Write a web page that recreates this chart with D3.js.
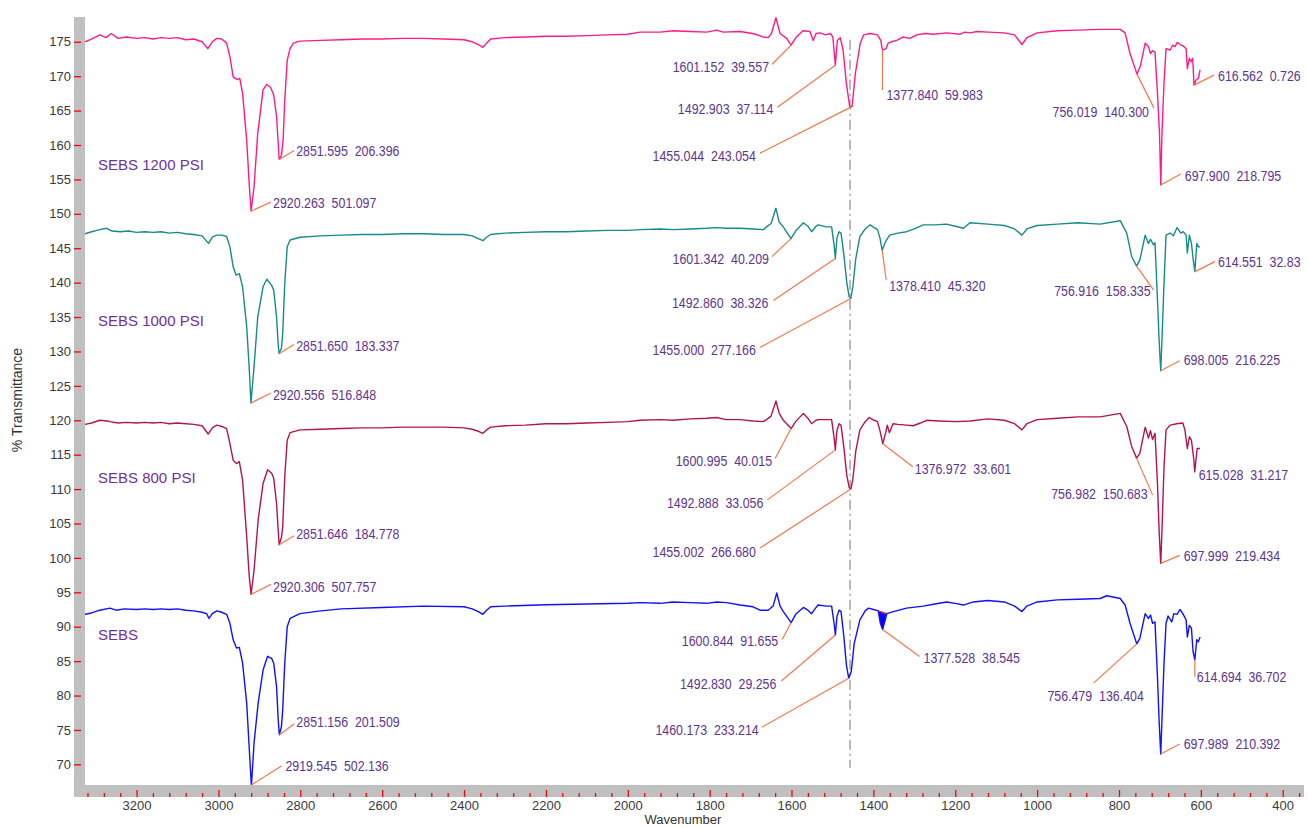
<!DOCTYPE html>
<html>
<head>
<meta charset="utf-8">
<script src="https://cdn.jsdelivr.net/npm/d3@7/dist/d3.min.js"></script>
<style>
  html, body { margin: 0; padding: 0; background: #ffffff; }
  svg { display: block; }
  text { font-family: "Liberation Sans", Arial, sans-serif; }
</style>
</head>
<body>
<svg id="chart" width="1308" height="828"></svg>
<script>
// ---- FTIR spectra: [wavenumber (cm-1), % transmittance] ----
const sebs1200 = [
  [3326,175.0],[3310,175.4],[3290,176.0],[3275,175.6],[3262,176.2],[3245,175.5],[3225,175.7],[3200,175.5],
  [3180,175.6],[3160,175.4],[3140,175.6],[3120,175.5],[3100,175.6],[3080,175.3],[3060,175.4],[3040,175.0],
  [3026,174.0],[3015,175.0],[3004,175.5],[2992,175.4],[2980,174.8],[2972,172.8],[2964,169.9],[2954,169.5],
  [2948,169.7],[2941,167.5],[2931,160.7],[2925,154.5],[2920.3,150.4],[2913,153.9],[2904,161.7],[2891,168.0],
  [2882,168.8],[2873,168.4],[2865,167.3],[2858,164.1],[2851.6,157.9],[2846,158.5],[2842,160.7],[2838,166.5],
  [2832,172.3],[2825,174.0],[2817,174.8],[2801,175.1],[2750,175.2],[2700,175.3],[2650,175.4],[2600,175.4],
  [2550,175.5],[2500,175.5],[2450,175.4],[2400,175.3],[2380,175.0],[2365,174.6],[2354,174.2],[2345,174.8],
  [2335,175.4],[2300,175.6],[2250,175.7],[2200,175.8],[2150,175.8],[2100,175.9],[2050,176.0],[2000,176.1],
  [1970,176.4],[1921,176.4],[1889,176.6],[1848,176.5],[1807,176.4],[1783,176.7],[1767,176.4],[1726,176.5],
  [1694,176.2],[1669,175.7],[1657,175.6],[1649,176.2],[1638,178.5],[1628,176.2],[1612,175.5],[1601.2,174.5],
  [1588,175.7],[1572,176.6],[1555,176.5],[1547,175.2],[1540,176.2],[1530,176.3],[1517,176.0],[1505,176.2],
  [1499,175.7],[1492.9,171.6],[1488,175.2],[1481,175.6],[1474,173.8],[1466,169.0],[1458,165.6],[1455,165.5],
  [1452,165.6],[1444,170.4],[1432,174.8],[1424,176.0],[1408,176.2],[1390,176.0],[1382,175.2],[1377.8,173.8],
  [1369,174.0],[1364,174.8],[1356,175.0],[1343,175.2],[1327,175.7],[1311,175.5],[1294,176.0],[1274,176.2],
  [1254,176.1],[1221,176.3],[1188,176.1],[1176,176.4],[1164,176.3],[1147,176.5],[1120,176.4],[1080,176.3],
  [1055,176.0],[1037,174.6],[1025,175.6],[1000,176.3],[950,176.6],[900,176.7],[846,176.8],[797,176.8],
  [785,176.3],[773,173.3],[756,170.3],[748,171.4],[736,174.8],[728,174.3],[723,173.3],[718,173.7],
  [712,173.5],[706,167.5],[701,161.7],[697.9,154.2],[695,161.7],[690,169.0],[685,174.0],[675,173.8],
  [669,174.5],[663,174.3],[658,174.9],[650,174.6],[643,174.4],[636,174.0],[633,171.1],[628,172.6],
  [624,172.1],[620,172.6],[616.6,168.7],[612,169.4],[606,169.7],[602,170.9]
];

const sebs1000 = [
  [3326,147.1],[3310,147.4],[3290,147.7],[3273,147.9],[3260,147.5],[3240,147.4],[3220,147.5],[3200,147.3],
  [3180,147.4],[3160,147.3],[3140,147.4],[3120,147.2],[3100,147.3],[3080,147.1],[3060,147.0],[3040,146.8],
  [3024,145.7],[3015,146.6],[3004,146.9],[2992,146.9],[2980,146.7],[2972,145.2],[2964,142.3],[2957,141.1],
  [2949,141.3],[2941,139.4],[2931,133.6],[2925,127.8],[2920.6,122.5],[2913,127.8],[2904,135.0],[2891,139.4],
  [2882,140.5],[2870,139.6],[2865,138.9],[2858,135.0],[2854,131.0],[2851.7,129.7],[2846,130.5],[2843,132.6],
  [2838,139.9],[2832,145.2],[2825,146.2],[2801,146.6],[2750,146.8],[2700,146.9],[2650,147.0],[2600,147.0],
  [2550,147.1],[2500,147.1],[2450,147.0],[2400,147.0],[2380,146.8],[2365,146.4],[2354,146.1],[2345,146.6],
  [2335,147.0],[2300,147.2],[2250,147.3],[2200,147.4],[2150,147.4],[2100,147.5],[2050,147.6],[2000,147.6],
  [1970,147.7],[1921,147.8],[1889,147.7],[1848,147.8],[1807,147.9],[1783,148.0],[1760,147.9],[1726,147.9],
  [1694,147.8],[1669,147.7],[1661,148.1],[1650,148.6],[1638,150.8],[1630,148.8],[1620,148.1],[1601.3,146.4],
  [1590,147.5],[1571,148.7],[1560,148.2],[1551,147.4],[1540,148.2],[1535,148.4],[1515,148.1],[1502,148.1],
  [1496,145.5],[1492.9,143.5],[1489,146.5],[1484,147.4],[1479,147.2],[1472,144.0],[1465,140.0],[1459,137.9],
  [1455,137.7],[1450,139.5],[1443,143.5],[1433,146.7],[1420,147.8],[1408,148.4],[1398,148.0],[1390,147.7],
  [1384,146.5],[1378.4,144.7],[1370,146.0],[1360,146.9],[1340,147.2],[1319,147.4],[1300,147.8],[1278,148.4],
  [1250,148.4],[1221,148.5],[1200,148.2],[1180,147.9],[1164,148.7],[1120,148.5],[1080,148.3],[1055,147.8],
  [1037,146.9],[1025,147.8],[1000,148.3],[950,148.5],[900,148.7],[846,148.5],[797,149.0],[781,147.2],
  [769,143.8],[756.9,142.4],[749,143.3],[736,146.9],[728,145.7],[723,146.3],[716,145.5],[712,145.8],
  [706,137.5],[702,131.7],[698,127.2],[695,131.7],[690,139.9],[685,146.9],[675,147.2],[667,146.8],
  [658,148.0],[649,147.2],[643,147.4],[636,146.9],[633,144.3],[628,146.9],[623,145.7],[619,143.5],
  [614.6,141.6],[610,145.7],[606,145.2],[602,145.2]
];

const sebs800 = [
  [3326,119.4],[3310,119.6],[3290,120.0],[3273,119.9],[3265,119.8],[3245,119.6],[3225,119.7],[3200,119.6],
  [3180,119.7],[3160,119.6],[3140,119.7],[3120,119.5],[3100,119.6],[3080,119.5],[3060,119.4],[3040,119.2],
  [3025,118.0],[3015,118.9],[3004,119.3],[2992,119.1],[2980,118.8],[2972,116.6],[2964,114.2],[2956,113.7],
  [2949,114.0],[2941,111.3],[2931,103.1],[2925,97.5],[2920.3,94.7],[2913,98.2],[2903,105.5],[2891,110.8],
  [2880,112.8],[2870,112.3],[2865,111.6],[2858,107.9],[2854,104.0],[2851.6,101.9],[2846,103.0],[2843,104.5],
  [2838,111.8],[2832,117.1],[2825,118.2],[2801,118.6],[2750,118.7],[2700,118.8],[2650,118.9],[2600,118.9],
  [2550,119.0],[2500,119.0],[2450,119.0],[2400,118.9],[2380,118.7],[2365,118.4],[2354,118.1],[2345,118.6],
  [2335,119.0],[2300,119.2],[2250,119.3],[2200,119.5],[2150,119.5],[2100,119.6],[2050,119.7],[2000,119.8],
  [1970,120.0],[1921,120.1],[1889,120.0],[1848,120.2],[1807,120.3],[1783,120.4],[1760,120.1],[1726,120.1],
  [1694,119.9],[1669,119.8],[1661,120.1],[1650,120.6],[1638,122.8],[1630,121.0],[1620,120.0],[1601,118.8],
  [1590,119.8],[1571,121.0],[1560,120.3],[1551,119.5],[1540,120.0],[1535,120.1],[1515,120.1],[1502,120.1],
  [1496,117.5],[1492.9,115.7],[1489,118.5],[1484,119.5],[1479,119.3],[1472,116.0],[1465,112.0],[1459,110.2],
  [1455,110.0],[1450,111.5],[1443,115.5],[1433,118.6],[1420,119.8],[1410,120.4],[1398,120.0],[1390,119.8],
  [1384,118.5],[1377,116.6],[1370,118.2],[1366,119.3],[1361,118.2],[1352,119.5],[1340,119.4],[1319,119.3],
  [1303,119.2],[1285,119.6],[1270,120.0],[1240,119.9],[1197,119.8],[1164,119.9],[1120,120.2],[1080,120.0],
  [1055,119.5],[1037,118.6],[1025,119.5],[1000,120.1],[950,120.3],[900,120.5],[846,120.5],[797,121.0],
  [781,119.1],[769,116.2],[757,114.5],[749,115.2],[736,119.0],[728,117.4],[723,118.5],[718,117.2],
  [712,118.1],[706,110.8],[702,104.0],[698,99.2],[695,104.0],[690,113.2],[685,118.6],[675,119.3],
  [659,119.5],[644,119.6],[639,118.6],[633,115.9],[628,117.6],[623,117.1],[617,114.2],[615,112.5],
  [609,115.9],[602,115.9]
];

const sebs = [
  [3326,91.8],[3310,92.0],[3290,92.4],[3265,92.7],[3250,92.4],[3230,92.6],[3200,92.5],[3180,92.6],
  [3160,92.5],[3140,92.6],[3120,92.5],[3100,92.6],[3080,92.4],[3060,92.3],[3040,92.1],[3029,91.9],
  [3023,91.2],[3015,91.9],[3004,92.3],[2992,92.1],[2980,91.8],[2972,90.5],[2964,88.1],[2956,86.9],
  [2949,87.0],[2941,84.7],[2931,78.9],[2925,72.6],[2919.5,66.8],[2913,73.1],[2903,78.9],[2891,83.7],
  [2880,85.7],[2870,85.4],[2865,84.7],[2858,81.3],[2854,76.5],[2851.2,74.3],[2846,75.5],[2843,77.9],
  [2838,84.7],[2832,90.0],[2825,91.2],[2801,91.9],[2750,92.3],[2700,92.6],[2600,92.8],[2500,93.0],
  [2400,92.9],[2380,92.6],[2365,92.2],[2354,91.8],[2345,92.4],[2335,92.9],[2300,93.0],[2200,93.2],
  [2100,93.3],[2000,93.4],[1970,93.5],[1921,93.4],[1889,93.6],[1848,93.5],[1807,93.4],[1783,93.6],
  [1758,93.5],[1726,93.15],[1694,92.9],[1677,92.4],[1657,92.4],[1645,93.0],[1636,94.9],[1628,93.0],
  [1620,92.2],[1600.8,90.6],[1590,91.8],[1571,92.8],[1560,92.4],[1551,91.9],[1540,92.8],[1535,93.15],
  [1515,93.0],[1502,93.0],[1496,90.5],[1492.8,88.8],[1489,91.5],[1484,92.4],[1479,92.2],[1472,88.5],
  [1466,84.5],[1460.2,82.5],[1454,83.5],[1447,87.5],[1433,91.0],[1420,92.3],[1412,92.7],[1400,92.5],
  [1388,92.3],[1383,90.5],[1377.5,89.6],[1372,90.8],[1367,91.9],[1351,92.2],[1319,92.7],[1278,93.0],
  [1250,93.3],[1221,93.6],[1200,93.4],[1180,93.15],[1156,93.6],[1120,93.8],[1080,93.6],[1055,93.0],
  [1037,92.2],[1025,93.0],[1000,93.6],[950,93.9],[900,94.0],[846,94.1],[830,94.5],[797,94.1],
  [785,93.15],[773,90.5],[756.5,87.5],[749,88.3],[736,91.9],[728,91.2],[723,91.7],[718,90.5],
  [712,90.7],[706,82.7],[702,76.4],[698,71.5],[695,76.4],[690,84.7],[685,90.5],[680,91.55],
  [671,90.7],[666,91.9],[658,91.8],[651,92.5],[644,91.9],[636,91.0],[633,88.5],[628,90.2],
  [623,89.8],[619,86.4],[614.7,85.2],[610,88.1],[606,87.8],[602,88.5]
];

// ---- series names, colours and peak picks ----
const seriesNames = ["SEBS 1200 PSI", "SEBS 1000 PSI", "SEBS 800 PSI", "SEBS"];
const seriesColors = ["#ff1a8c", "#178a8a", "#b31450", "#1010ff"];

const peaks1200 = [
  [2920.263, "2920.263  501.097"], [2851.595, "2851.595  206.396"], [1601.152, "1601.152  39.557"],
  [1492.903, "1492.903  37.114"], [1455.044, "1455.044  243.054"], [1377.840, "1377.840  59.983"],
  [756.019, "756.019  140.300"], [697.900, "697.900  218.795"], [616.562, "616.562  0.726"]
];
const peaks1000 = [
  [2920.556, "2920.556  516.848"], [2851.650, "2851.650  183.337"], [1601.342, "1601.342  40.209"],
  [1492.860, "1492.860  38.326"], [1455.000, "1455.000  277.166"], [1378.410, "1378.410  45.320"],
  [756.916, "756.916  158.335"], [698.005, "698.005  216.225"], [614.551, "614.551  32.83"]
];
const peaks800 = [
  [2920.306, "2920.306  507.757"], [2851.646, "2851.646  184.778"], [1600.995, "1600.995  40.015"],
  [1492.888, "1492.888  33.056"], [1455.002, "1455.002  266.680"], [1376.972, "1376.972  33.601"],
  [756.982, "756.982  150.683"], [697.999, "697.999  219.434"], [615.028, "615.028  31.217"]
];
const peaksSebs = [
  [2919.545, "2919.545  502.136"], [2851.156, "2851.156  201.509"], [1600.844, "1600.844  91.655"],
  [1492.830, "1492.830  29.256"], [1460.173, "1460.173  233.214"], [1377.528, "1377.528  38.545"],
  [756.479, "756.479  136.404"], [697.989, "697.989  210.392"], [614.694, "614.694  36.702"]
];

// axis ticks
const xTicks = [3200, 3000, 2800, 2600, 2400, 2200, 2000, 1800, 1600, 1400, 1200, 1000, 800, 600, 400];
const yTicks = [70, 75, 80, 85, 90, 95, 100, 105, 110, 115, 120, 125, 130, 135, 140, 145, 150, 155, 160, 165, 170, 175];

// marker line through the CH2 bending band
const markerWavenumber = 1457;

// ---- layout ----
const plot = { left: 85, right: 1304, top: 17, bottom: 785 };
const band = 12;

// leader offsets [dx, dy] from the peak to the label, text side, text nudge [tx, ty]
const peakLayout = [
  [[20,-9,"start",2,0],[15,-9,"start",2,0],[-19,19,"end",-3,2],[-58,42,"end",-4,1],[-91,46,"end",-4,2],
   [0,40,"start",4,4],[17,34,"end",-5,3],[20,-11,"start",4,1],[20,-10,"start",4,0]],
  [[20,-10,"start",2,1],[15,-9,"start",2,1],[-19,18,"end",-3,2],[-62,42,"end",-5,2],[-91,49,"end",-4,2],
   [4,30,"start",3,5],[17,24,"end",-3,0],[19,-10,"start",4,-1],[20,-10,"start",3,0]],
  [[20,-10,"start",2,2],[15,-9,"start",2,-2],[-16,30,"end",-3,2],[-68,50,"end",-4,3],[-91,59,"end",-4,3],
   [30,23,"start",2,2],[16,37,"end",-5,-2],[19,-8,"start",4,0],[0,0,"start",4,3]],
  [[30,-19,"start",4,-1],[15,-11,"start",2,-2],[-9,17,"end",-4,1],[-54,46,"end",-5,2],[-87,49,"end",-3,2],
   [37,27,"start",4,1],[-43,39,"end",50,12],[19,-10,"start",4,-1],[0,17,"start",2,0]]
];
const labelPos = [[98, 165], [98, 321], [98, 478], [98, 635]];

const svg = d3.select("#chart");

const x = d3.scaleLinear().domain([3326, 348]).range([plot.left, plot.right]);
const y = d3.scaleLinear().domain([67.0, 178.6]).range([plot.bottom, plot.top]);

// axis frame (grey bands)
svg.append("rect").attr("x", plot.left - 11).attr("y", plot.top)
  .attr("width", 11).attr("height", plot.bottom + band - plot.top).attr("fill", "#c0c0c0");
svg.append("rect").attr("x", plot.left - 11).attr("y", plot.bottom)
  .attr("width", plot.right - plot.left + 11).attr("height", band).attr("fill", "#c0c0c0");

// y axis
const yAxis = svg.append("g").attr("transform", `translate(${plot.left - 11},0)`)
  .call(d3.axisLeft(y).tickValues(yTicks).tickSize(-7).tickPadding(3).tickFormat(d3.format("d")));
yAxis.select(".domain").remove();
yAxis.selectAll(".tick line").attr("stroke", "#ff0000").attr("stroke-width", 1.3);
yAxis.selectAll(".tick text").attr("fill", "#3a3a3a").style("font-size", "13px");

// x axis: minor then major ticks
const xMinor = d3.range(3320, 340, -40).filter(v => v % 200 !== 0);
const xMinorAxis = svg.append("g").attr("transform", `translate(0,${plot.bottom + band})`)
  .call(d3.axisBottom(x).tickValues(xMinor).tickSize(-4).tickFormat(""));
xMinorAxis.select(".domain").remove();
xMinorAxis.selectAll(".tick line").attr("stroke", "#ff0000").attr("stroke-width", 1.3);

const xAxis = svg.append("g").attr("transform", `translate(0,${plot.bottom + band})`)
  .call(d3.axisBottom(x).tickValues(xTicks).tickSize(-7).tickPadding(4).tickFormat(d3.format("d")));
xAxis.select(".domain").remove();
xAxis.selectAll(".tick line").attr("stroke", "#ff0000").attr("stroke-width", 1.3);
xAxis.selectAll(".tick text").attr("fill", "#3a3a3a").style("font-size", "13px");

// axis titles
svg.append("text").attr("x", 683).attr("y", 824).attr("text-anchor", "middle")
  .attr("fill", "#333").style("font-size", "13px").text("Wavenumber");
svg.append("text").attr("transform", "translate(22,400) rotate(-90)").attr("text-anchor", "middle")
  .attr("fill", "#333").style("font-size", "14px").text("% Transmittance");

// plot clip
svg.append("clipPath").attr("id", "plotClip").append("rect")
  .attr("x", plot.left).attr("y", plot.top - 2)
  .attr("width", plot.right - plot.left).attr("height", plot.bottom - plot.top + 2);

const gPlot = svg.append("g").attr("clip-path", "url(#plotClip)");

// dash-dot marker line
gPlot.append("line")
  .attr("x1", x(markerWavenumber)).attr("x2", x(markerWavenumber))
  .attr("y1", y(175.3)).attr("y2", y(69.5))
  .attr("stroke", "#a8a8a8").attr("stroke-width", 1.6)
  .attr("stroke-dasharray", "10,4,2,4");

const allSeries = [sebs1200, sebs1000, sebs800, sebs];
const allPeaks = [peaks1200, peaks1000, peaks800, peaksSebs];

const line = d3.line().x(d => x(d[0])).y(d => y(d[1]));

// shaded band under the SEBS 1377 cm-1 peak
const shade = sebs.filter(d => d[0] <= 1388 && d[0] >= 1367);
gPlot.append("path")
  .attr("d", line(shade) + "Z")
  .attr("fill", "#0000ff").attr("stroke", "none");
gPlot.append("line")
  .attr("x1", x(shade[0][0])).attr("y1", y(shade[0][1]))
  .attr("x2", x(shade[shade.length - 1][0])).attr("y2", y(shade[shade.length - 1][1]))
  .attr("stroke", "#ff3030").attr("stroke-width", 1.5);

// spectra
allSeries.forEach((data, i) => {
  gPlot.append("path").datum(data)
    .attr("fill", "none")
    .attr("stroke", seriesColors[i])
    .attr("stroke-width", 1.4)
    .attr("stroke-linejoin", "round")
    .attr("d", line);
});

// series names
seriesNames.forEach((name, i) => {
  svg.append("text").attr("x", labelPos[i][0]).attr("y", labelPos[i][1])
    .attr("dy", "0.35em").attr("fill", "#7030a0").style("font-size", "15px")
    .text(name);
});

// peak annotations: leader from the pick point out to its label
function nearest(data, wn) {
  return data.reduce((best, d) => Math.abs(d[0] - wn) < Math.abs(best[0] - wn) ? d : best, data[0]);
}

allPeaks.forEach((peaks, i) => {
  peaks.forEach((p, j) => {
    const pt = nearest(allSeries[i], p[0]);
    const px = x(p[0]);
    const py = Math.min(y(pt[1]), plot.bottom);
    const [dx, dy, anchor, tx, ty] = peakLayout[i][j];
    if (dx !== 0 || dy !== 0) {
      svg.append("line")
        .attr("x1", px).attr("y1", py).attr("x2", px + dx).attr("y2", py + dy)
        .attr("stroke", "#f5774a").attr("stroke-width", 1.2);
    }
    const g = svg.append("g")
      .attr("transform", `translate(${px + dx + tx},${py + dy + ty}) scale(0.8,1)`);
    g.append("text")
      .attr("text-anchor", anchor).attr("dy", "0.36em")
      .attr("fill", "#5e3490").style("font-size", "15.5px")
      .style("white-space", "pre")
      .text(p[1]);
  });
});
</script>
</body>
</html>
